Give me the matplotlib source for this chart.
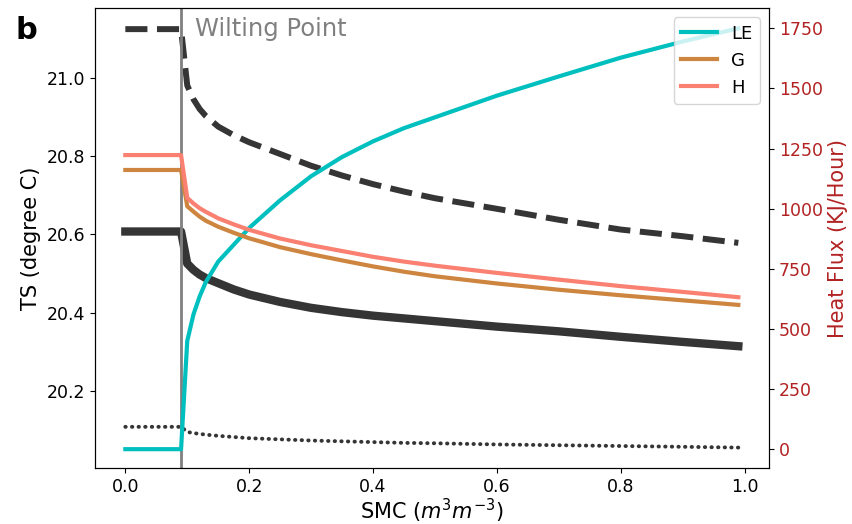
import numpy as np
import matplotlib
matplotlib.use("Agg")
import matplotlib.pyplot as plt

# soil moisture samples (m3/m3)
smc = [0.0, 0.09, 0.10, 0.11, 0.12, 0.13, 0.15, 0.175, 0.20, 0.25, 0.30, 0.35,
       0.40, 0.45, 0.50, 0.60, 0.70, 0.80, 0.90, 0.99]

# surface temperature curves (left axis)
ts_solid = [20.607, 20.607, 20.525, 20.509, 20.497, 20.488, 20.475, 20.459, 20.446,
            20.427, 20.412, 20.401, 20.392, 20.385, 20.378, 20.364, 20.352, 20.338,
            20.325, 20.314]
ts_dash = [21.124, 21.124, 20.98, 20.945, 20.92, 20.902, 20.875, 20.853, 20.835,
           20.805, 20.775, 20.75, 20.728, 20.709, 20.692, 20.665, 20.637, 20.612,
           20.595, 20.578]
ts_dot = [20.108, 20.108, 20.095, 20.092, 20.090, 20.088, 20.085, 20.082, 20.079,
          20.076, 20.073, 20.071, 20.069, 20.067, 20.066, 20.063, 20.061, 20.059,
          20.057, 20.055]

# heat fluxes (right axis, KJ/Hour)
le = [0, 0, 450, 560, 635, 695, 780, 850, 920, 1035, 1135, 1215, 1280, 1335, 1380,
      1470, 1550, 1628, 1695, 1750]
g = [1161, 1161, 1010, 988, 967, 950, 925, 900, 877, 840, 811, 785, 760, 738, 719,
     689, 663, 640, 619, 600]
h = [1223, 1223, 1045, 1022, 1002, 987, 960, 935, 912, 876, 848, 824, 800, 780, 763,
     733, 705, 678, 654, 632]

wilting = 0.09

fig = plt.figure(figsize=(8.53, 5.24), dpi=100)
ax = fig.add_axes([0.111, 0.107, 0.7905, 0.877])
ax2 = ax.twinx()

dark = '#353535'
ax.plot(smc, ts_dash, color=dark, lw=4.3, ls='--')
ax.plot(smc, ts_solid, color=dark, lw=6)
ax.plot(smc, ts_dot, color=dark, lw=2.8, ls=(0, (0.1, 1.6)), dash_capstyle='round')
ax.axvline(wilting, color='grey', lw=2)
ax.text(wilting + 0.022, 21.125, 'Wilting Point', color='grey', fontsize=17.5,
        va='center', ha='left')

ax2.plot(smc, le, color='c', lw=3, label='LE')
ax2.plot(smc, g, color='peru', lw=3, label='G')
ax2.plot(smc, h, color='salmon', lw=3, label='H')

ax.set_ylim(20.003, 21.177)
ax2.set_ylim(-78, 1833)
ax.set_yticks([20.2, 20.4, 20.6, 20.8, 21.0])
ax2.set_yticks([0, 250, 500, 750, 1000, 1250, 1500, 1750])

ax.set_xlabel('SMC ($m^3m^{-3}$)', fontsize=15, labelpad=1)
ax.set_ylabel('TS (degree C)', fontsize=15)
ax2.set_ylabel('Heat Flux (KJ/Hour)', fontsize=15, color='firebrick')
ax.tick_params(labelsize=12.5)
ax2.tick_params(labelsize=12.5, labelcolor='firebrick')

ax2.legend(loc='upper right', fontsize=13)

fig.text(0.018, 0.925, 'b', fontsize=22, fontweight='bold')

fig.savefig('out.png', dpi=100)
